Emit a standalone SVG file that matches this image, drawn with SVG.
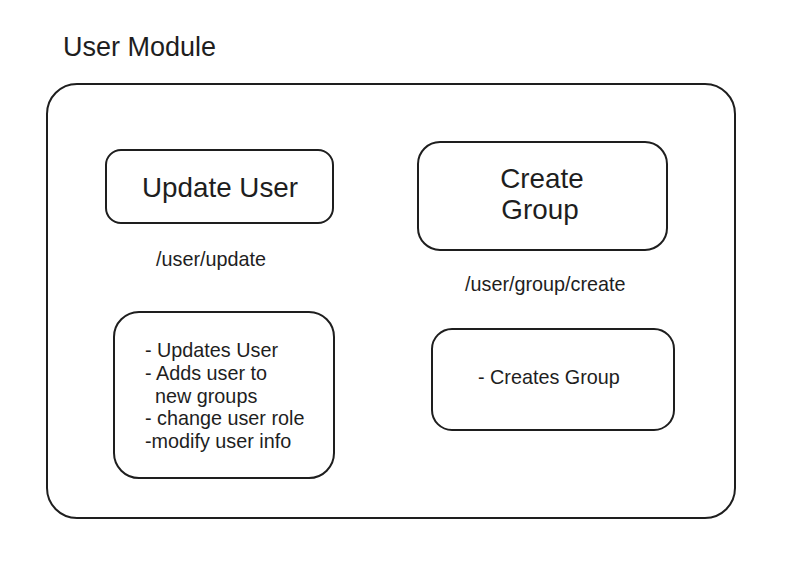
<svg xmlns="http://www.w3.org/2000/svg" width="806" height="569" viewBox="0 0 806 569">
<style>
.box{fill:#fff;stroke:#1e1e1e;stroke-width:2}
text{font-family:"Liberation Sans",Arial,sans-serif;fill:#1e1e1e}
.t{font-size:19.8px}
.big{font-size:27.8px;text-anchor:middle}
</style>
<rect width="806" height="569" fill="#fff"/>
<text x="63" y="56" style="font-size:27px">User Module</text>
<g id="module"><rect class="box" x="47" y="84" width="688" height="434" rx="30"/></g>
<g id="update-user"><rect class="box" x="106" y="150" width="227" height="73" rx="15"/><text class="big" x="220" y="197">Update User</text></g>
<g id="create-group"><rect class="box" x="418" y="142" width="249" height="108" rx="22"/><text class="big" x="542" y="188">Create</text><text class="big" x="540" y="219">Group</text></g>
<text class="t" x="156" y="266">/user/update</text>
<text class="t" x="465" y="291">/user/group/create</text>
<g id="update-desc"><rect class="box" x="114" y="312" width="220" height="166" rx="25"/>
<text class="t" x="145" y="357">- Updates User</text>
<text class="t" x="145" y="380">- Adds user to</text>
<text class="t" x="155" y="403">new groups</text>
<text class="t" x="145" y="425">- change user role</text>
<text class="t" x="145" y="448">-modify user info</text></g>
<g id="create-desc"><rect class="box" x="432" y="329" width="242" height="101" rx="20"/><text class="t" x="478" y="384">- Creates Group</text></g>
<g id="connectors"></g>
</svg>
